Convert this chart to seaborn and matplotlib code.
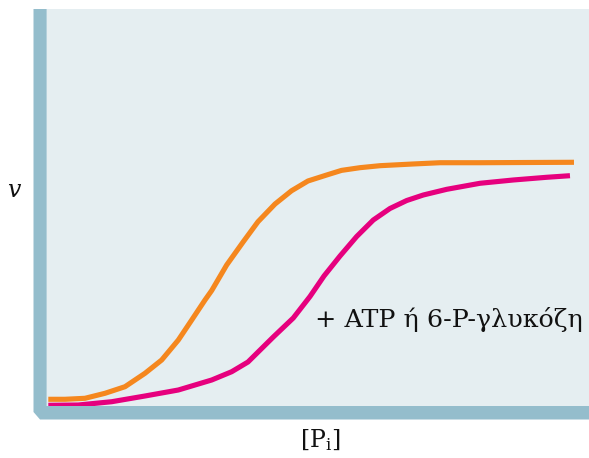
import matplotlib
matplotlib.use("Agg")
import matplotlib.pyplot as plt
from matplotlib.patches import Polygon
import seaborn as sns
import pandas as pd

# Curves (x: [Pi], y: v, both in 0-100 units)
orange_x = [0.24, 3.32, 7.01, 10.70, 14.39, 18.08, 21.16, 24.23, 26.70, 29.15,
            30.39, 33.15, 36.22, 38.93, 42.07, 45.11, 48.15, 51.61, 54.34,
            57.75, 61.44, 67.53, 72.51, 79.89, 97.23]
orange_y = [1.69, 1.69, 1.94, 3.20, 4.86, 8.24, 11.59, 16.62, 21.66, 26.70,
            29.09, 35.52, 41.39, 46.42, 50.88, 54.21, 56.68, 58.19, 59.35,
            60.03, 60.53, 60.96, 61.28, 61.28, 61.39]

magenta_x = [0.24, 5.77, 11.94, 18.08, 24.23, 30.39, 34.08, 37.08, 41.75, 45.44,
             48.52, 51.11, 54.06, 57.14, 60.20, 63.28, 66.37, 69.43, 73.75,
             79.89, 86.03, 92.19, 96.49]
magenta_y = [0.18, 0.25, 1.08, 2.52, 4.03, 6.55, 8.64, 11.08, 17.38, 22.17,
             27.58, 32.75, 37.78, 42.70, 46.85, 49.75, 51.76, 53.15, 54.58,
             56.10, 56.93, 57.61, 58.01]

label_text = "+ ATP ή 6-P-γλυκόζη"

W, H = 589, 458
bg = "#E5EEF1"
bar = "#94BDCC"
orange = "#F5871E"
magenta = "#E6007E"

sns.set_theme(style="white")
plt.rcParams["mathtext.fontset"] = "dejavuserif"

fig = plt.figure(figsize=(W / 100, H / 100), dpi=100)
ax = fig.add_axes([47 / W, 52 / H, (W - 47) / W, 397 / H])
ax.set_facecolor(bg)

df_o = pd.DataFrame({"x": orange_x, "y": orange_y})
df_m = pd.DataFrame({"x": magenta_x, "y": magenta_y})
sns.lineplot(data=df_o, x="x", y="y", ax=ax, color=orange, lw=3.7, sort=False,
             solid_capstyle="butt", solid_joinstyle="round", clip_on=False)
sns.lineplot(data=df_m, x="x", y="y", ax=ax, color=magenta, lw=3.7, sort=False,
             solid_capstyle="butt", solid_joinstyle="round", clip_on=False)

ax.set_xlim(0, 100)
ax.set_ylim(0, 100)
ax.set_xticks([])
ax.set_yticks([])
ax.set_xlabel("")
ax.set_ylabel("")
for s in ax.spines.values():
    s.set_visible(False)

ax.text(49.4, 19.9, label_text, fontsize=18.3, family="DejaVu Serif",
        color="#111111", ha="left", va="baseline")

# thick axis bars with the bevelled corner
pts = [(33.5, 9), (33.5, 412), (40, 419.5), (589, 419.5), (589, 406),
       (46.7, 406), (46.7, 9)]
fig.patches.append(Polygon([(x / W, 1 - y / H) for x, y in pts], closed=True,
                           transform=fig.transFigure, facecolor=bar,
                           edgecolor="none", zorder=3))

fig.text(15 / W, 1 - 190 / H, r"$v$", fontsize=17, color="#111111",
         ha="center", va="center")
fig.text(320 / W, 1 - 440 / H, r"[P$_{\rm i}$]", fontsize=17,
         family="DejaVu Serif", color="#111111", ha="center", va="center")

fig.savefig("out.png", dpi=100)
